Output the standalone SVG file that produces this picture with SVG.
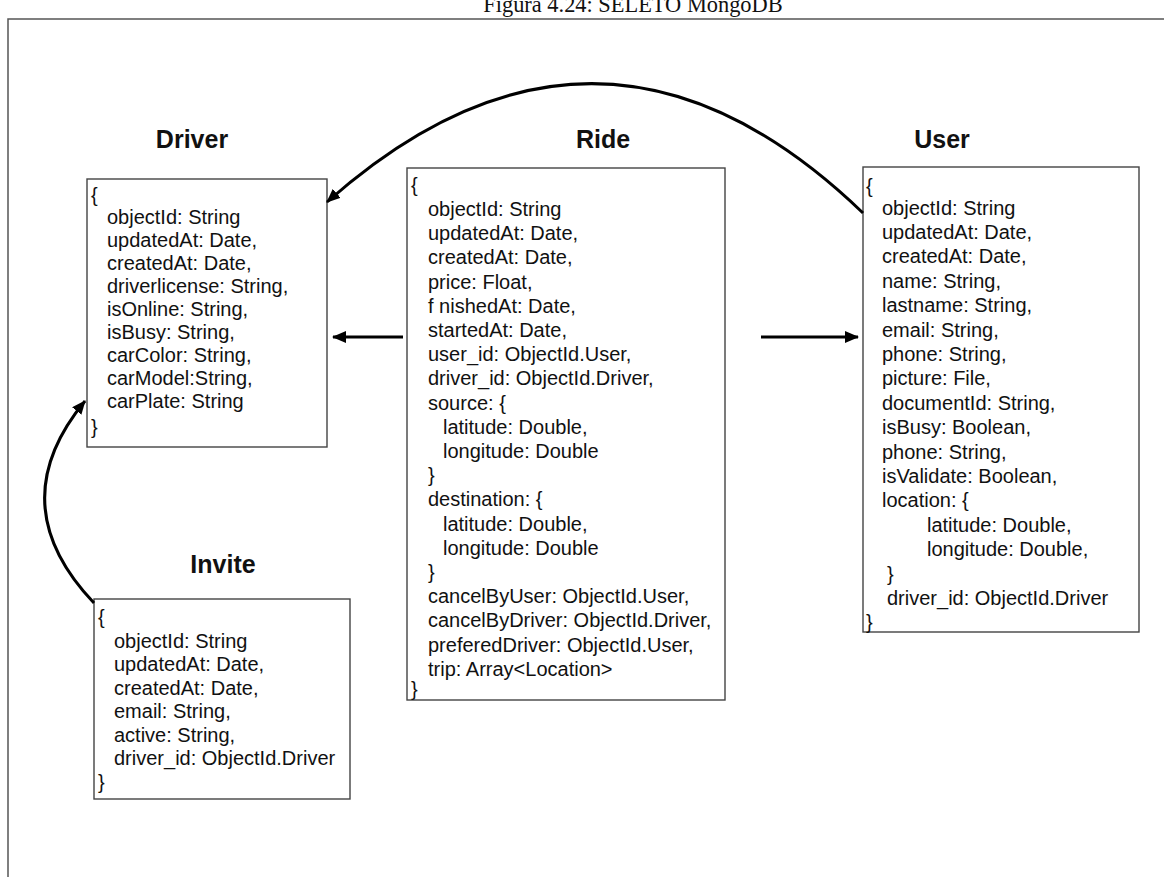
<svg xmlns="http://www.w3.org/2000/svg" width="1164" height="877" viewBox="0 0 1164 877">
  <style>
    .frame { fill: none; stroke: #555; stroke-width: 1.5; }
    .box { fill: #fff; stroke: #444; stroke-width: 1.4; }
    .title { font-family: "Liberation Sans", Arial, sans-serif; font-size: 25px; font-weight: bold; fill: #111; text-anchor: middle; }
    .body { font-family: "Liberation Sans", Arial, sans-serif; font-size: 20px; fill: #111; }
    .caption { font-family: "Liberation Serif", "Times New Roman", serif; font-size: 22.4px; fill: #111; text-anchor: middle; }
    .link { fill: none; stroke: #000; stroke-width: 3; }
  </style>
  <defs>
    <marker id="head" viewBox="0 0 14 12" refX="13" refY="6" markerWidth="14" markerHeight="12" markerUnits="userSpaceOnUse" orient="auto">
      <path d="M0,0 L14,6 L0,12 Z" fill="#000"/>
    </marker>
  </defs>

  <rect width="1164" height="877" fill="#fff"/>

  <!-- caption and surrounding frame -->
  <text class="caption" x="633" y="12">Figura 4.24: SELETO MongoDB</text>
  <path class="frame" d="M8,877 L8,19 L1164,19"/>

  <!-- Driver collection -->
  <g id="driver">
    <text class="title" x="192" y="148">Driver</text>
    <rect class="box" x="87" y="179" width="240" height="268"/>
    <text class="body">
      <tspan x="91" y="202">{</tspan>
      <tspan x="107" y="224">objectId: String</tspan>
      <tspan x="107" y="247">updatedAt: Date,</tspan>
      <tspan x="107" y="270">createdAt: Date,</tspan>
      <tspan x="107" y="293">driverlicense: String,</tspan>
      <tspan x="107" y="316">isOnline: String,</tspan>
      <tspan x="107" y="339">isBusy: String,</tspan>
      <tspan x="107" y="362">carColor: String,</tspan>
      <tspan x="107" y="385">carModel:String,</tspan>
      <tspan x="107" y="408">carPlate: String</tspan>
      <tspan x="91" y="434">}</tspan>
    </text>
  </g>

  <!-- Ride collection -->
  <g id="ride">
    <text class="title" x="603" y="148">Ride</text>
    <rect class="box" x="407" y="168" width="318" height="532"/>
    <text class="body">
      <tspan x="411" y="192">{</tspan>
      <tspan x="428" y="216">objectId: String</tspan>
      <tspan x="428" y="240.2">updatedAt: Date,</tspan>
      <tspan x="428" y="264.4">createdAt: Date,</tspan>
      <tspan x="428" y="288.6">price: Float,</tspan>
      <tspan x="428" y="312.8">f nishedAt: Date,</tspan>
      <tspan x="428" y="337">startedAt: Date,</tspan>
      <tspan x="428" y="361.2">user_id: ObjectId.User,</tspan>
      <tspan x="428" y="385.4">driver_id: ObjectId.Driver,</tspan>
      <tspan x="428" y="409.6">source: {</tspan>
      <tspan x="443" y="433.8">latitude: Double,</tspan>
      <tspan x="443" y="458">longitude: Double</tspan>
      <tspan x="428" y="482.2">}</tspan>
      <tspan x="428" y="506.4">destination: {</tspan>
      <tspan x="443" y="530.6">latitude: Double,</tspan>
      <tspan x="443" y="554.8">longitude: Double</tspan>
      <tspan x="428" y="579">}</tspan>
      <tspan x="428" y="603.2">cancelByUser: ObjectId.User,</tspan>
      <tspan x="428" y="627.4">cancelByDriver: ObjectId.Driver,</tspan>
      <tspan x="428" y="651.6">preferedDriver: ObjectId.User,</tspan>
      <tspan x="428" y="675.8">trip: Array&lt;Location&gt;</tspan>
      <tspan x="411" y="696">}</tspan>
    </text>
  </g>

  <!-- User collection -->
  <g id="user">
    <text class="title" x="942" y="148">User</text>
    <rect class="box" x="863" y="167" width="276" height="465"/>
    <text class="body">
      <tspan x="866" y="193">{</tspan>
      <tspan x="882" y="214.5">objectId: String</tspan>
      <tspan x="882" y="238.9">updatedAt: Date,</tspan>
      <tspan x="882" y="263.3">createdAt: Date,</tspan>
      <tspan x="882" y="287.7">name: String,</tspan>
      <tspan x="882" y="312.1">lastname: String,</tspan>
      <tspan x="882" y="336.5">email: String,</tspan>
      <tspan x="882" y="360.9">phone: String,</tspan>
      <tspan x="882" y="385.3">picture: File,</tspan>
      <tspan x="882" y="409.7">documentId: String,</tspan>
      <tspan x="882" y="434.1">isBusy: Boolean,</tspan>
      <tspan x="882" y="458.5">phone: String,</tspan>
      <tspan x="882" y="482.9">isValidate: Boolean,</tspan>
      <tspan x="882" y="507.3">location: {</tspan>
      <tspan x="927" y="531.7">latitude: Double,</tspan>
      <tspan x="927" y="556.1">longitude: Double,</tspan>
      <tspan x="887" y="580.5">}</tspan>
      <tspan x="887" y="604.9">driver_id: ObjectId.Driver</tspan>
      <tspan x="866" y="628.5">}</tspan>
    </text>
  </g>

  <!-- Invite collection -->
  <g id="invite">
    <text class="title" x="223" y="573">Invite</text>
    <rect class="box" x="94" y="599" width="256" height="200"/>
    <text class="body">
      <tspan x="98" y="624">{</tspan>
      <tspan x="114" y="647.5">objectId: String</tspan>
      <tspan x="114" y="671">updatedAt: Date,</tspan>
      <tspan x="114" y="694.5">createdAt: Date,</tspan>
      <tspan x="114" y="718">email: String,</tspan>
      <tspan x="114" y="741.5">active: String,</tspan>
      <tspan x="114" y="765">driver_id: ObjectId.Driver</tspan>
      <tspan x="98" y="789">}</tspan>
    </text>
  </g>

  <!-- references between collections -->
  <g id="connectors">
    <path class="link" d="M863,213 Q600,-40 327,202" marker-end="url(#head)"/>
    <path class="link" d="M403,337 L333,337" marker-end="url(#head)"/>
    <path class="link" d="M761,337 L858,337" marker-end="url(#head)"/>
    <path class="link" d="M94,603 Q0,504 85,401" marker-end="url(#head)"/>
  </g>
</svg>
